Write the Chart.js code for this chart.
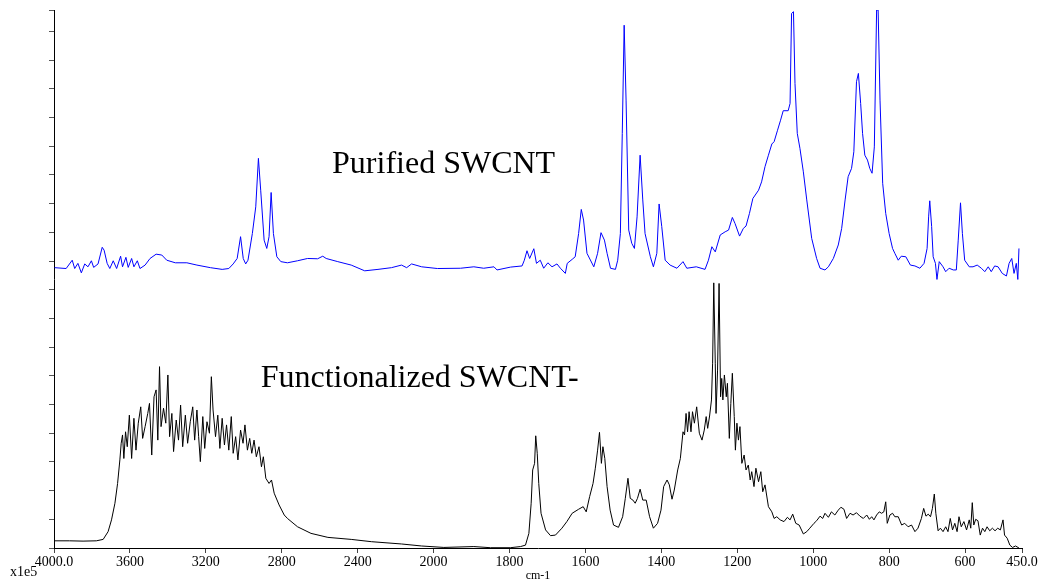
<!DOCTYPE html>
<html>
<head>
<meta charset="utf-8">
<script src="https://cdn.jsdelivr.net/npm/chart.js@4.4.0/dist/chart.umd.min.js"></script>
<style>
html, body { margin: 0; padding: 0; background: #fff; }
</style>
</head>
<body>
<canvas id="myChart" width="1041" height="583"></canvas>
<script>
const xTicks = [4000, 3600, 3200, 2800, 2400, 2000, 1800, 1600, 1400, 1200, 1000, 800, 600, 450];

// Purified SWCNT (blue)
const purifiedWn = [
    3997, 3936, 3904, 3891, 3874, 3856, 3838, 3821, 3803, 3791, 3768, 3746, 3736, 3720, 3706, 3688,
    3670, 3649, 3639, 3621, 3609, 3591, 3579, 3561, 3547, 3520, 3494, 3462, 3432, 3406, 3361, 3300,
    3247, 3176, 3114, 3079, 3056, 3035, 3017, 3003, 2990, 2978, 2955, 2937, 2923, 2911, 2893, 2879,
    2867, 2856, 2844, 2826, 2805, 2770, 2717, 2664, 2611, 2584, 2566, 2505, 2434, 2363, 2293, 2222,
    2169, 2142, 2116, 2063, 1990,
    1929, 1894, 1868, 1841, 1833, 1797, 1767, 1761, 1754, 1747, 1736, 1729, 1719, 1710, 1699, 1688,
    1675, 1666, 1653, 1648, 1635, 1627, 1618, 1611, 1605, 1596, 1578, 1568, 1559, 1550, 1543, 1534,
    1521, 1515, 1508, 1503, 1498, 1493, 1486, 1478, 1471, 1464, 1456, 1449, 1443, 1429, 1421, 1412,
    1406, 1399, 1390, 1377, 1359, 1343, 1333, 1308, 1285, 1276, 1267, 1258, 1245, 1232, 1223, 1213,
    1206, 1194, 1184, 1177, 1168, 1159, 1144, 1136, 1127, 1118, 1109, 1103, 1094, 1086, 1079, 1066,
    1061, 1057, 1052, 1048, 1042, 1035, 1026, 1017, 1004, 991, 982, 969, 960, 947, 934, 925,
    916, 908, 899, 893, 886, 881, 875, 870, 864, 857, 851, 845, 839, 833, 829, 824,
    817, 809, 800, 791, 785, 776, 768, 756, 744, 732, 719, 708, 700, 696, 693, 688,
    684, 678, 674, 668, 658, 651, 642, 631, 623, 618, 612, 607, 601, 589, 579, 568,
    557, 548, 539, 531, 522, 513, 502, 491, 484, 477, 471, 465, 461, 458
];
const purifiedAbs = [
    9.77, 9.74, 10.03, 9.74, 9.92, 9.59, 9.90, 9.80, 10.01, 9.78, 9.90, 10.48, 10.38, 9.92, 9.74, 10.01,
    9.74, 10.17, 9.80, 10.13, 9.78, 10.09, 9.80, 10.01, 9.74, 9.86, 10.09, 10.24, 10.21, 10.03, 9.94, 9.94,
    9.86, 9.77, 9.71, 9.74, 9.90, 10.09, 10.85, 10.09, 9.90, 10.03, 10.96, 11.89, 13.58, 12.47, 10.73, 10.44,
    10.85, 12.39, 10.96, 10.15, 9.98, 9.94, 10.01, 10.09, 10.08, 10.17, 10.09, 9.98, 9.86, 9.66, 9.71, 9.77,
    9.86, 9.77, 9.90, 9.80, 9.74,
    9.75, 9.80, 9.75, 9.80, 9.69, 9.79, 9.83, 10.03, 10.36, 10.09, 10.43, 9.92, 10.03, 9.75, 9.94, 9.80,
    9.90, 9.75, 9.57, 9.92, 10.06, 10.15, 10.96, 11.80, 11.43, 10.27, 9.80, 10.27, 10.99, 10.73, 10.27, 9.75,
    9.71, 10.03, 10.96, 14.45, 18.22, 15.61, 11.08, 10.62, 10.44, 11.54, 13.69, 12.13, 10.96, 10.15, 9.80, 10.27,
    11.99, 11.20, 10.03, 9.86, 9.75, 9.98, 9.75, 9.80, 9.71, 10.03, 10.50, 10.32, 10.91, 11.02, 11.08, 11.52,
    11.31, 10.87, 11.14, 11.22, 11.66, 12.18, 12.47, 12.76, 13.29, 13.69, 14.08, 14.16, 14.56, 14.91, 15.24, 15.24,
    15.49, 18.63, 18.69, 16.19, 14.45, 13.93, 13.11, 12.13, 10.79, 10.09, 9.75, 9.69, 9.80, 10.09, 10.56, 11.14,
    12.13, 12.94, 13.23, 13.81, 16.25, 16.54, 15.49, 14.45, 13.69, 13.52, 13.23, 13.06, 13.98, 18.75, 18.75, 15.61,
    12.71, 11.66, 10.96, 10.44, 10.27, 10.03, 10.17, 10.15, 9.86, 9.83, 9.75, 9.92, 10.44, 11.54, 12.10, 11.20,
    10.15, 9.92, 9.36, 9.98, 9.80, 9.63, 9.75, 9.69, 9.69, 10.73, 12.03, 10.96, 10.03, 9.80, 9.80, 9.86,
    9.75, 9.63, 9.80, 9.63, 9.83, 9.80, 9.57, 9.48, 9.92, 10.09, 9.57, 9.92, 9.36, 10.44
];

// Functionalized SWCNT (black)
const functionalWn = [
    3997, 3918, 3847, 3777, 3741, 3715, 3697, 3679, 3665, 3653, 3646, 3639, 3632, 3623, 3614, 3603,
    3591, 3579, 3568, 3556, 3543, 3533, 3520, 3506, 3497, 3485, 3473, 3462, 3453, 3444, 3436, 3423,
    3411, 3400, 3391, 3379, 3370, 3356, 3344, 3333, 3322, 3308, 3296, 3282, 3269, 3259, 3247, 3238,
    3229, 3216, 3206, 3194, 3181, 3171, 3162, 3149, 3137, 3126, 3114, 3102, 3091, 3079, 3066, 3056,
    3043, 3031, 3017, 3004, 2994, 2981, 2969, 2958, 2946, 2934, 2920, 2907, 2897, 2884, 2867, 2854,
    2840, 2814, 2787, 2770, 2717, 2646, 2557, 2434, 2328, 2169, 2063, 1973, 1894, 1850,
    1798, 1771, 1758, 1749, 1743, 1739, 1734, 1731, 1727, 1723, 1717, 1705, 1692, 1679, 1662, 1649,
    1635, 1618, 1606, 1598, 1589, 1580, 1574, 1568, 1563, 1558, 1554, 1549, 1543, 1535, 1526, 1513,
    1502, 1495, 1488, 1482, 1475, 1469, 1463, 1456, 1449, 1440, 1431, 1421, 1410, 1401, 1394, 1385,
    1379, 1372, 1366, 1357, 1350, 1343, 1339, 1335, 1331, 1327, 1322, 1318, 1313, 1307, 1300, 1293,
    1287, 1282, 1278, 1273, 1268, 1265, 1262, 1258, 1256, 1252, 1248, 1244, 1241, 1238, 1234, 1229,
    1226, 1221, 1217, 1213, 1208, 1205, 1201, 1197, 1193, 1188, 1182, 1177, 1171, 1166, 1162, 1156,
    1151, 1144, 1138, 1133, 1127, 1118, 1109, 1103, 1096, 1087, 1077, 1068, 1061, 1054, 1046, 1037,
    1026, 1017, 1009, 998, 991, 982, 975, 969, 960, 952, 943, 934, 927, 919, 912, 903,
    895, 886, 877, 868, 859, 852, 846, 840, 833, 826, 820, 814, 809, 805, 798, 791,
    785, 776, 767, 759, 750, 741, 732, 724, 715, 709, 703, 697, 691, 686, 681, 677,
    671, 665, 658, 651, 645, 639, 633, 627, 621, 616, 610, 603, 596, 589, 585, 581,
    577, 572, 566, 560, 554, 548, 542, 535, 528, 521, 514, 507, 500, 496, 489, 482,
    475, 467, 458
];
const functionalAbs = [
    0.25, 0.25, 0.24, 0.25, 0.30, 0.57, 0.98, 1.56, 2.25, 3.07, 3.65, 3.94, 3.12, 4.05, 3.53, 4.63,
    3.12, 4.52, 3.41, 4.35, 4.92, 3.82, 4.23, 4.69, 5.04, 3.24, 5.27, 5.51, 3.76, 6.32, 4.23, 4.87,
    4.35, 6.03, 3.88, 4.69, 3.36, 4.46, 3.76, 4.98, 3.53, 4.63, 3.65, 4.40, 4.92, 3.76, 4.81, 3.88,
    3.01, 4.58, 3.47, 4.40, 4.00, 5.97, 4.81, 3.88, 4.63, 3.47, 4.52, 3.59, 4.29, 3.41, 4.58, 3.30,
    3.88, 3.07, 4.11, 3.65, 4.29, 3.41, 3.82, 3.30, 3.76, 3.18, 3.53, 2.83, 3.18, 2.43, 2.25, 2.37,
    1.91, 1.50, 1.15, 1.03, 0.74, 0.51, 0.37, 0.30, 0.22, 0.14, 0.07, 0.02, 0.05, 0.01,
    0.01, 0.05, 0.10, 0.51, 1.56, 2.72, 2.95, 3.91, 3.30, 2.25, 1.21, 0.63, 0.43, 0.45, 0.69, 0.92,
    1.21, 1.35, 1.44, 1.26, 1.79, 2.25, 2.78, 3.41, 4.03, 2.95, 3.53, 3.12, 2.14, 1.32, 0.80, 0.72,
    1.09, 1.73, 2.43, 1.73, 1.67, 1.56, 1.73, 2.05, 1.67, 1.67, 1.09, 0.69, 0.86, 1.32, 2.14, 2.37,
    2.20, 1.70, 2.02, 2.72, 3.12, 4.05, 3.94, 4.69, 4.05, 4.75, 4.05, 4.75, 4.35, 4.92, 4.00, 3.76,
    4.11, 4.58, 4.17, 4.60, 5.16, 6.44, 9.24, 6.44, 4.69, 6.20, 9.22, 5.27, 5.91, 5.16, 6.03, 5.27,
    5.74, 3.82, 5.04, 6.09, 4.58, 3.41, 4.35, 3.76, 4.23, 2.95, 3.24, 2.72, 2.89, 2.37, 2.66, 2.14,
    2.78, 2.31, 2.66, 1.96, 2.20, 1.44, 1.26, 1.03, 1.09, 0.98, 0.92, 1.07, 0.98, 1.18, 0.86, 0.80,
    0.49, 0.57, 0.69, 0.86, 0.95, 1.11, 1.03, 1.21, 1.07, 1.26, 1.15, 1.32, 1.42, 1.35, 1.03, 1.21,
    1.15, 1.23, 1.11, 1.03, 1.15, 1.00, 1.09, 0.98, 1.15, 1.26, 1.21, 1.26, 1.61, 0.86, 1.15, 1.21,
    1.09, 1.09, 0.80, 0.86, 0.74, 0.80, 0.57, 0.69, 1.03, 1.38, 1.11, 1.18, 1.09, 1.38, 1.88, 1.21,
    0.60, 0.69, 0.57, 0.74, 0.57, 1.03, 0.63, 0.86, 0.57, 1.09, 0.74, 0.92, 0.63, 0.98, 0.69, 1.58,
    0.80, 1.00, 0.95, 0.45, 0.69, 0.57, 0.74, 0.60, 0.69, 0.60, 0.69, 0.63, 0.98, 0.45, 0.34, 0.10,
    0.02, 0.07, 0.00
];

// the wavenumber axis is squeezed to half scale above 2000 cm-1
function toAxis(wn) {
    return wn > 2000 ? 2000 + (wn - 2000) / 2 : wn;
}
function fromAxis(u) {
    return u > 2000 ? 2000 + (u - 2000) * 2 : u;
}
function points(wn, vals) {
    return wn.map((w, i) => ({ x: toAxis(w), y: vals[i] }));
}

const serif = "'Liberation Serif', 'Times New Roman', serif";

const labelsPlugin = {
    id: "spectrumLabels",
    afterDraw(chart) {
        const ctx = chart.ctx;
        const x = chart.scales.x;
        const y = chart.scales.y;
        ctx.save();
        ctx.fillStyle = "#000";
        ctx.textAlign = "left";
        ctx.textBaseline = "alphabetic";
        ctx.font = "32px " + serif;
        ctx.fillText("Purified SWCNT", x.getPixelForValue(toAxis(2535)), y.getPixelForValue(13.06));
        ctx.fillText("Functionalized SWCNT-", x.getPixelForValue(toAxis(2911)), y.getPixelForValue(5.62));
        ctx.font = "14px " + serif;
        ctx.fillText("x1e5", 10, 576);
        ctx.restore();
    },
};

const data = {
    datasets: [
        {
            label: "Purified SWCNT",
            data: points(purifiedWn, purifiedAbs),
            borderColor: "#0000ff",
            borderWidth: 1,
            pointRadius: 0,
            fill: false,
        },
        {
            label: "Functionalized SWCNT-",
            data: points(functionalWn, functionalAbs),
            borderColor: "#000000",
            borderWidth: 1,
            pointRadius: 0,
            fill: false,
        },
    ],
};

const config = {
    type: "line",
    data: data,
    options: {
        responsive: false,
        animation: false,
        layout: { padding: { top: 10, right: 19, left: 0, bottom: 0 } },
        plugins: {
            legend: { display: false },
            tooltip: { enabled: false },
        },
        scales: {
            x: {
                type: "linear",
                reverse: true,
                min: 450,
                max: 3000,
                afterBuildTicks: (scale) => {
                    scale.ticks = xTicks.map((w) => ({ value: toAxis(w) }));
                },
                afterFit: (scale) => {
                    scale.height = 35;
                },
                ticks: {
                    autoSkip: false,
                    maxRotation: 0,
                    padding: 1,
                    color: "#000",
                    font: { family: serif, size: 14 },
                    callback: (v) => {
                        const w = Math.round(fromAxis(v));
                        return w === 4000 || w === 450 ? w.toFixed(1) : String(w);
                    },
                },
                grid: { drawOnChartArea: false, drawTicks: true, tickLength: 5, color: "#444" },
                border: { color: "#000", width: 1 },
                title: {
                    display: true,
                    text: "cm-1",
                    color: "#000",
                    padding: 0,
                    font: { family: serif, size: 12 },
                },
            },
            y: {
                min: 0,
                max: 18.75,
                afterFit: (scale) => {
                    scale.width = 54;
                },
                ticks: { display: false, stepSize: 1 },
                grid: { drawOnChartArea: false, drawTicks: true, tickLength: 5, color: "#555" },
                border: { color: "#000", width: 1 },
            },
        },
    },
    plugins: [labelsPlugin],
};

const ctx = document.getElementById("myChart").getContext("2d");
const myChart = new Chart(ctx, config);
</script>
</body>
</html>
